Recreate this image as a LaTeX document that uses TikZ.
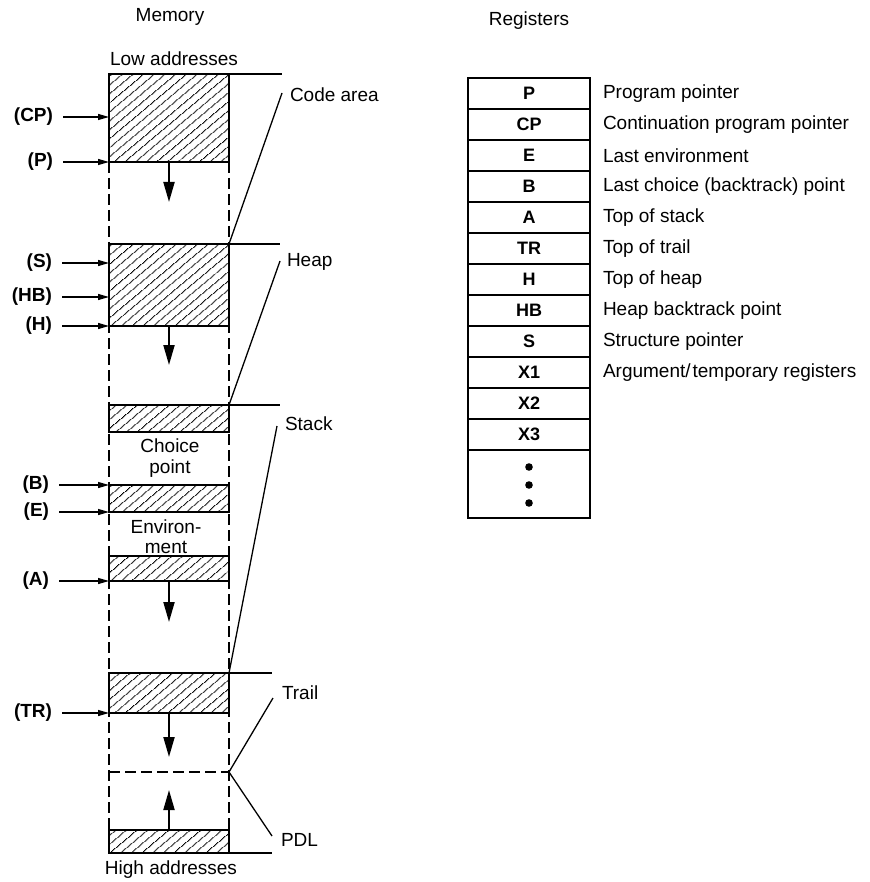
\documentclass[tikz,border=0pt]{standalone}
\usepackage{fontspec}
\setmainfont{Liberation Sans}
\usetikzlibrary{arrows.meta,patterns.meta}
\begin{document}
\begin{tikzpicture}[x=1pt,y=-1pt,
  every node/.style={font=\fontsize{19}{22}\selectfont, inner sep=0pt, outer sep=0pt},
  hatchbox/.style={draw, line width=2pt, minimum width=120pt,
    pattern={Lines[angle=40,distance=6.5pt,line width=0.9pt]}},
  colline/.style={line width=1.2pt, dash pattern=on 11pt off 5pt},
  lead/.style={line width=1.3pt},
  ptr/.style={-{Triangle[length=11pt,width=6pt]}, line width=1.3pt, shorten <=10pt},
  growarrow/.style={-{Triangle[length=20pt,width=11pt]}, line width=2pt},
  plabel/.style={anchor=east, font=\fontsize{19}{22}\selectfont\bfseries},
  regbox/.style={draw, line width=1.5pt, minimum width=122pt, minimum height=31pt,
    font=\fontsize{18}{21}\selectfont\bfseries},
  desc/.style={anchor=west}]
\useasboundingbox (0,0) rectangle (869,882);

% ---------- Memory ----------
\node (memtitle) at (170,17) {Memory};
\node (lowaddr) at (174,59) {Low addresses};
\node (highaddr) at (171,870) {High addresses};

% column coordinates
\coordinate (midL) at (109,772);
\coordinate (midR) at (229,772);

% dashed column edges (drawn first, blocks overdraw them)
\draw[colline] (109,162) -- (109,830);
\draw[colline] (229,162) -- (229,830);
\draw[colline] (midL) -- (midR);

% hatched blocks
\node[hatchbox, minimum height=88pt] (code)  at (169,118)   {};
\node[hatchbox, minimum height=82pt] (heap)  at (169,285)   {};
\node[hatchbox, minimum height=27pt] (stk1)  at (169,418.5) {};
\node[hatchbox, minimum height=27pt] (stk2)  at (169,498.5) {};
\node[hatchbox, minimum height=25pt] (stk3)  at (169,568.5) {};
\node[hatchbox, minimum height=40pt] (trail) at (169,693)   {};
\node[hatchbox, minimum height=23pt] (pdl)   at (169,841.5) {};

% texts inside the stack
\node[align=center, font=\fontsize{19}{21}\selectfont] (choice) at (170,458) {Choice\\point};
\node[align=center, font=\fontsize{19}{20}\selectfont] (envir) at (166,537) {Environ-\\ment};

% boundary extension lines
\coordinate (codeT) at (282,74);
\coordinate (heapT) at (280,244);
\coordinate (stkT) at (280,405);
\coordinate (trailT) at (272,673);
\coordinate (pdlB) at (272,853);
\draw[lead] (code.north east) -- (codeT);
\draw[lead] (heap.north east) -- (heapT);
\draw[lead] (stk1.north east) -- (stkT);
\draw[lead] (trail.north east) -- (trailT);
\draw[lead] (pdl.south east) -- (pdlB);

% area labels and leader lines
\node[anchor=west] (codelbl) at (290,95) {Code area};
\node[anchor=west] (heaplbl) at (287,262) {Heap};
\node[anchor=west] (stacklbl) at (285,424) {Stack};
\node[anchor=west] (traillbl) at (282,693) {Trail};
\node[anchor=west] (pdllbl) at (281,840) {PDL};
\coordinate (codeL) at (282,93);
\coordinate (heapL) at (280,261);
\coordinate (stackL) at (277,426);
\coordinate (trailL) at (273,698);
\coordinate (pdlL) at (272,836);
\draw[lead] (codeL) -- (heap.north east);
\draw[lead] (heapL) -- (stk1.north east);
\draw[lead] (stackL) -- (trail.north east);
\draw[lead] (trailL) -- (midR);
\draw[lead] (midR) -- (pdlL);

% growth arrows
\draw[growarrow] (code.south) -- ++(0,40);
\draw[growarrow] (heap.south) -- ++(0,39);
\draw[growarrow] (stk3.south) -- ++(0,41);
\draw[growarrow] (trail.south) -- ++(0,44);
\draw[growarrow] (pdl.north) -- ++(0,-40);

% pointer registers
\coordinate (cpT) at (109,117);
\coordinate (sT) at (109,263);
\coordinate (hbT) at (109,297);
\node[plabel] (lcp) at (53,117) {(CP)};
\node[plabel] (lp)  at (53,162) {(P)};
\node[plabel] (ls)  at (52,263) {(S)};
\node[plabel] (lhb) at (52,297) {(HB)};
\node[plabel] (lh)  at (52,326) {(H)};
\node[plabel] (lb)  at (49,485) {(B)};
\node[plabel] (le)  at (49,512) {(E)};
\node[plabel] (la)  at (49,581) {(A)};
\node[plabel] (ltr) at (52,713) {(TR)};
\draw[ptr] (lcp.east) -- (cpT);
\draw[ptr] (lp.east) -- (code.south west);
\draw[ptr] (ls.east) -- (sT);
\draw[ptr] (lhb.east) -- (hbT);
\draw[ptr] (lh.east) -- (heap.south west);
\draw[ptr] (lb.east) -- (stk2.north west);
\draw[ptr] (le.east) -- (stk2.south west);
\draw[ptr] (la.east) -- (stk3.south west);
\draw[ptr] (ltr.east) -- (trail.south west);

% ---------- Registers ----------
\node (regtitle) at (529,21) {Registers};
\node[regbox] (rP)  at (529,93.5)  {P};
\node[regbox] (rCP) at (529,124.5) {CP};
\node[regbox] (rE)  at (529,155.5) {E};
\node[regbox] (rB)  at (529,186.5) {B};
\node[regbox] (rA)  at (529,217.5) {A};
\node[regbox] (rTR) at (529,248.5) {TR};
\node[regbox] (rH)  at (529,279.5) {H};
\node[regbox] (rHB) at (529,310.5) {HB};
\node[regbox] (rS)  at (529,341.5) {S};
\node[regbox] (rX1) at (529,372.5) {X1};
\node[regbox] (rX2) at (529,403.5) {X2};
\node[regbox] (rX3) at (529,434.5) {X3};
\node[regbox, minimum height=68pt] (rdots) at (529,484) {};
\fill (529,467) circle (3.8pt);
\fill (529,485) circle (3.8pt);
\fill (529,503) circle (3.8pt);

\node[desc] (dP)  at (603,93.5)  {Program pointer};
\node[desc] (dCP) at (603,124.5) {Continuation program pointer};
\node[desc] (dE)  at (603,155.5) {Last environment};
\node[desc] (dB)  at (603,186.5) {Last choice (backtrack) point};
\node[desc] (dA)  at (603,217.5) {Top of stack};
\node[desc] (dTR) at (603,248.5) {Top of trail};
\node[desc] (dH)  at (603,279.5) {Top of heap};
\node[desc] (dHB) at (603,310.5) {Heap backtrack point};
\node[desc] (dS)  at (603,341.5) {Structure pointer};
\node[desc] (dX1) at (603,372.5) {Argument/\kern2pt temporary registers};
\end{tikzpicture}
\end{document}
